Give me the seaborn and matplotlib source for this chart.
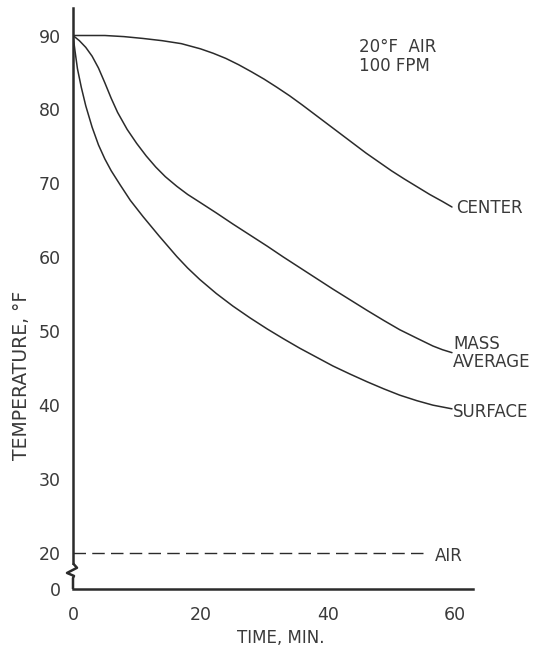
import numpy as np
import pandas as pd
import matplotlib
matplotlib.use("Agg")
import matplotlib.pyplot as plt
import seaborn as sns


# ==================================================
# DATA
# ==================================================
center_time = [0, 5, 8, 11, 14, 17, 20, 22, 24, 26, 28, 30, 32, 34, 36, 38, 40,
               42, 44, 46, 48, 50, 52, 54, 56, 58, 59.5]
center_temp = [90, 90, 89.85, 89.6, 89.3, 88.9, 88.2, 87.6, 86.9, 86.05, 85.1, 84.1,
               83.0, 81.85, 80.6, 79.3, 78.0, 76.7, 75.4, 74.1, 72.9, 71.7, 70.6,
               69.55, 68.5, 67.55, 66.8]

mass_time = [0, 1, 2, 3, 4, 5, 6, 7, 8.5, 10, 11.5, 13, 14.5, 16.3, 18, 19.9, 22.5,
             25.1, 27.8, 30.5, 33, 35.6, 38.2, 40.8, 43.5, 46.2, 48.8, 51.3, 54,
             56.5, 58, 59.5]
mass_temp = [90, 89.3, 88.4, 87.2, 85.6, 83.6, 81.5, 79.6, 77.3, 75.4, 73.7, 72.2,
             70.9, 69.6, 68.5, 67.45, 66.0, 64.5, 63.0, 61.5, 60.05, 58.6, 57.15,
             55.7, 54.25, 52.8, 51.45, 50.2, 49.05, 48.0, 47.5, 47.1]

surface_time = [0, 0.3, 0.7, 1.3, 2, 3, 4, 5, 6, 7.4, 9, 11, 13.5, 16.3, 18, 19.9,
                22.5, 25.1, 27.8, 30.5, 33, 35.6, 38.2, 40.8, 43.5, 46.2, 48.8,
                51.3, 54, 56.5, 58, 59.5]
surface_temp = [90, 88.0, 85.5, 83.0, 80.5, 77.6, 75.2, 73.3, 71.7, 69.8, 67.7, 65.5,
                62.9, 60.1, 58.55, 57.0, 55.1, 53.4, 51.8, 50.3, 49.0, 47.7, 46.5,
                45.3, 44.2, 43.15, 42.2, 41.35, 40.6, 40.0, 39.75, 39.5]

air_time = [0, 55.3]
air_temp = [20, 20]

y_ticks = [0, 20, 30, 40, 50, 60, 70, 80, 90]
x_ticks = [0, 20, 40, 60]

# the axis is broken between 0 and 20, so 0 sits just below 20
ZERO_POS = 15.13


# ==================================================
# STYLE
# ==================================================
sns.set_style("white")
plt.rcParams["font.family"] = ["DejaVu Sans"]
INK = "#2b2b2b"
TXT = "#3a3a3a"

fig = plt.figure(figsize=(5.42, 6.51), dpi=100)
ax = fig.add_axes([73 / 542, 62 / 651, 400 / 542, 581 / 651])

for t, v in [(center_time, center_temp), (mass_time, mass_temp), (surface_time, surface_temp)]:
    sns.lineplot(x=t, y=v, ax=ax, color=INK, linewidth=1.1, sort=False, estimator=None)

sns.lineplot(x=air_time, y=air_temp, ax=ax, color=INK, linewidth=1.0,
             dashes=False, estimator=None)
ax.lines[-1].set_dashes((9, 4.5))

ax.set_xlim(0, 62.8)
ax.set_ylim(ZERO_POS, 93.72)

ypos = [ZERO_POS if v == 0 else v for v in y_ticks]
ax.set_yticks(ypos)
ax.set_yticklabels([str(v) for v in y_ticks])
ax.set_xticks(x_ticks)
ax.set_xticklabels([str(v) for v in x_ticks])

ax.tick_params(axis="both", direction="out", length=6, width=1.5, color=INK,
               labelsize=12.5, labelcolor=TXT)
ax.tick_params(axis="y", pad=3)
ax.tick_params(axis="x", pad=6)
ax.yaxis.get_major_ticks()[0].tick1line.set_visible(False)
ax.xaxis.get_major_ticks()[0].tick1line.set_visible(False)

for s in ["top", "right"]:
    ax.spines[s].set_visible(False)
ax.spines["bottom"].set_linewidth(1.8)
ax.spines["bottom"].set_color(INK)
ax.spines["left"].set_linewidth(1.8)
ax.spines["left"].set_color(INK)
ax.spines["left"].set_bounds(18.6, 93.72)

# break mark on the y axis
px = 1 / 6.37
ax.plot([0, 4 * px, -6 * px, 1 * px, 0, 0],
        [18.6, 18.0, 17.3, 16.9, 16.6, ZERO_POS],
        color=INK, linewidth=1.8, clip_on=False, solid_capstyle="butt")

# labels
ax.set_xlabel("TIME, MIN.", fontsize=12, color=TXT)
ax.set_ylabel("TEMPERATURE, °F", fontsize=13.5, color=TXT)
ax.xaxis.set_label_coords(0.52, -0.068)
ax.yaxis.set_label_coords(-0.105, 0.368)

ax.text(60.2, 66.7, "CENTER", fontsize=12, color=TXT, va="center", ha="left")
ax.text(59.7, 47.1, "MASS\nAVERAGE", fontsize=12, color=TXT, va="center",
        ha="left", linespacing=1.0)
ax.text(59.7, 39.1, "SURFACE", fontsize=12, color=TXT, va="center", ha="left")
ax.text(56.8, 19.6, "AIR", fontsize=12, color=TXT, va="center", ha="left")
ax.text(44.9, 87.2, "20°F  AIR\n100 FPM", fontsize=12, color=TXT, va="center",
        ha="left", linespacing=1.1)

fig.savefig("out.png", dpi=100)
